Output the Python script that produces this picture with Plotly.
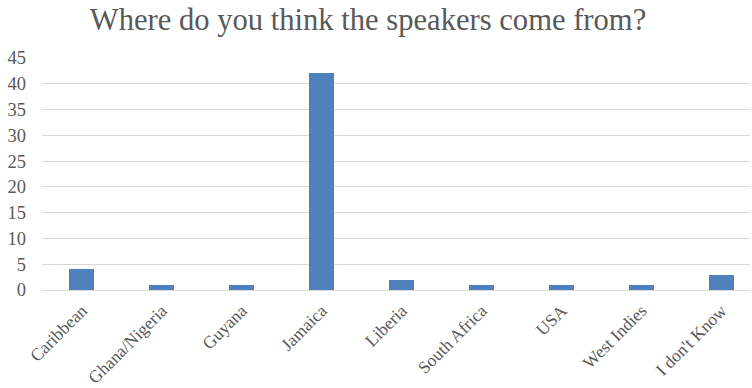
import plotly.graph_objects as go

# Survey responses: perceived origin of the speakers
categories = ["Caribbean", "Ghana/Nigeria", "Guyana", "Jamaica", "Liberia",
              "South Africa", "USA", "West Indies", "I don't Know"]
counts = [4, 1, 1, 42, 2, 1, 1, 1, 3]
y_ticks = [0, 5, 10, 15, 20, 25, 30, 35, 40, 45]

W, H = 752, 388
left, right, top, bottom = 41.5, 2, 58, 98
band = 80.0  # px per category
plot_w = W - left - right
x_max = -0.5 + plot_w / band

font_family = "'Liberation Serif', 'DejaVu Serif', serif"
text_color = "#595959"

fig = go.Figure(
    go.Bar(
        x=list(range(len(categories))),
        y=counts,
        marker=dict(color="#4f81bd", line=dict(width=0)),
        width=25 / band,
        hoverinfo="x+y",
    )
)

fig.update_layout(
    width=W,
    height=H,
    margin=dict(l=left, r=right, t=top, b=bottom, pad=0, autoexpand=False),
    paper_bgcolor="white",
    plot_bgcolor="white",
    showlegend=False,
    font=dict(family=font_family, color=text_color, size=18),
    title=dict(
        text="Where do you think the speakers come from?",
        font=dict(family=font_family, size=30.6, color=text_color),
        x=368 / W,
        xanchor="center",
        xref="container",
        y=1 - 19 / H,
        yanchor="middle",
        yref="container",
    ),
    xaxis=dict(
        range=[-0.5, x_max],
        tickmode="array",
        tickvals=list(range(len(categories))),
        ticktext=categories,
        tickangle=-45,
        showgrid=False,
        zeroline=False,
        showline=False,
        ticks="",
        ticklabelstandoff=6,
        tickfont=dict(size=17.5, color=text_color),
        automargin=False,
        fixedrange=True,
    ),
    yaxis=dict(
        range=[0, 45],
        tickmode="array",
        tickvals=y_ticks,
        showgrid=True,
        gridcolor="#d9d9d9",
        gridwidth=1,
        zeroline=True,
        zerolinecolor="#d9d9d9",
        zerolinewidth=1,
        showline=False,
        ticks="",
        ticklabelstandoff=15,
        tickfont=dict(size=18.5, color=text_color),
        automargin=False,
        fixedrange=True,
    ),
    bargap=0,
)

fig.write_html("out.html")
